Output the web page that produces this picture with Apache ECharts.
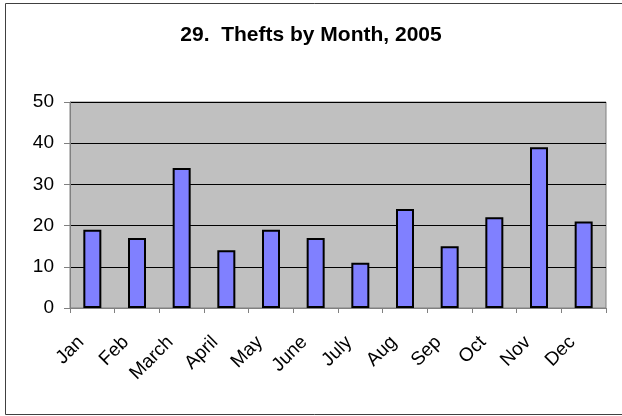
<!DOCTYPE html>
<html>
<head>
<meta charset="utf-8">
<script src="https://cdn.jsdelivr.net/npm/echarts@6/dist/echarts.min.js"></script>
<style>
  html, body { margin: 0; padding: 0; background: #fff; }
  #chart { width: 622px; height: 416px; }
</style>
</head>
<body>
<div id="chart"></div>
<script>
// categories and values
const months = ['Jan', 'Feb', 'March', 'April', 'May', 'June', 'July', 'Aug', 'Sep', 'Oct', 'Nov', 'Dec'];
const thefts = [19, 17, 34, 14, 19, 17, 11, 24, 15, 22, 39, 21];
const titleText = '29.  Thefts by Month, 2005';

const chart = echarts.init(document.getElementById('chart'));
const font = 'Liberation Sans, Arial, sans-serif';

chart.setOption({
    animation: false,
    textStyle: { fontFamily: font },
    title: {
        text: titleText,
        left: 'center',
        top: 20,
        textStyle: { fontFamily: font, fontSize: 21, fontWeight: 'bold', color: '#000' }
    },
    graphic: [{
        type: 'rect',
        shape: { x: 5.5, y: 3.5, width: 630, height: 411 },
        style: { fill: null, stroke: '#404040', lineWidth: 1 },
        silent: true
    }],
    grid: {
        left: 70, top: 102, right: 16, bottom: 108,
        show: true, backgroundColor: '#C0C0C0', borderColor: '#808080', borderWidth: 1
    },
    xAxis: {
        type: 'category',
        data: months,
        boundaryGap: true,
        axisLine: { lineStyle: { color: '#808080', width: 1 } },
        axisTick: { show: true, alignWithLabel: false, length: 5, lineStyle: { color: '#808080' } },
        axisLabel: {
            interval: 0, rotate: 45, margin: 20,
            fontSize: 19, color: '#000', fontFamily: font,
            padding: [0, 16, 0, 0]
        },
        splitLine: { show: false }
    },
    yAxis: {
        type: 'value',
        min: 0, max: 50, interval: 10,
        axisLine: { show: true, lineStyle: { color: '#808080', width: 1 } },
        axisTick: { show: true, length: 6, lineStyle: { color: '#808080' } },
        axisLabel: { fontSize: 19, color: '#000', margin: 16, fontFamily: font },
        splitLine: { show: true, lineStyle: { color: '#000', width: 1 } }
    },
    series: [{
        type: 'bar',
        data: thefts,
        barWidth: 18,
        itemStyle: { color: '#8080FF', borderColor: '#000', borderWidth: 2 }
    }]
});
</script>
</body>
</html>
